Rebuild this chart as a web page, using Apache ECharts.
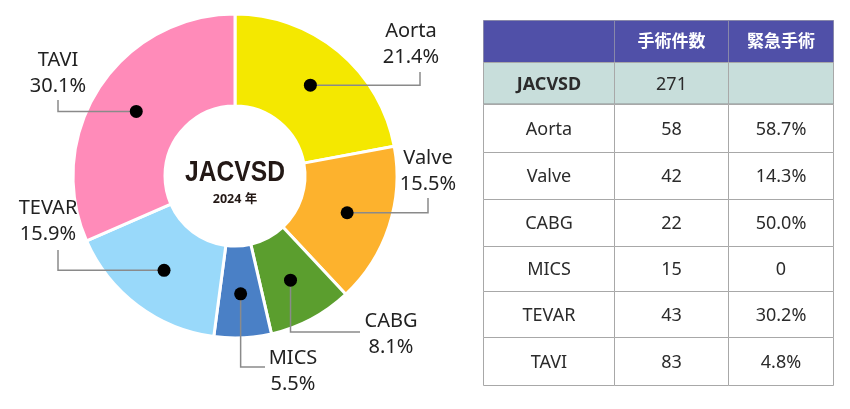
<!DOCTYPE html>
<html><head><meta charset="utf-8">
<script src="https://cdn.jsdelivr.net/npm/echarts@6/dist/echarts.min.js"></script>
<style>html,body{margin:0;padding:0;background:#fff}#c{width:850px;height:409px}</style>
</head><body><div id="c"></div>
<script>
// ---- data ----
const categories = ['Aorta', 'Valve', 'CABG', 'MICS', 'TEVAR', 'TAVI'];
const counts = [58, 42, 22, 15, 43, 83];
const shareLabels = ['21.4%', '15.5%', '8.1%', '5.5%', '15.9%', '30.1%'];
const emergencyRates = ['58.7%', '14.3%', '50.0%', '0', '30.2%', '4.8%'];
const totalLabel = 'JACVSD';
const totalCount = 271;
const headers = ['', '手術件数', '緊急手術'];
const yearLabel = '2024 年';

// ---- style / layout ----
const colors = ['#F4E800', '#FDB22D', '#5B9E2E', '#4A80C6', '#99D9FA', '#FF8BB9'];
const CX = 235, CY = 176, R0 = 70, R1 = 162, RDOT = 118;
const FONT = '"Noto Sans", "Noto Sans CJK JP", sans-serif';
const labelPos = {
  Aorta: { x: 411, y: 44, type: 'h', ex: 420, ey: 72 },
  Valve: { x: 428, y: 171, type: 'h', ex: 428, ey: 198 },
  CABG: { x: 391, y: 334, type: 'v', ex: 360, ey: 332 },
  MICS: { x: 293, y: 371, type: 'v', ex: 265, ey: 367 },
  TEVAR: { x: 48, y: 221, type: 'h', ex: 58, ey: 250 },
  TAVI: { x: 58, y: 73, type: 'h', ex: 58, ey: 100 }
};
const colW = [131, 114, 105];
const rowH = [42, 42, 48, 47, 47, 45, 46, 48];
const tableW = colW.reduce((a, b) => a + b, 0);
const tableH = rowH.reduce((a, b) => a + b, 0);

// ---- derived ----
const total = counts.reduce((a, b) => a + b, 0);
const tableRows = [headers, [totalLabel, String(totalCount), '']]
  .concat(categories.map((c, i) => [c, String(counts[i]), emergencyRates[i]]));
const cells = [];
tableRows.forEach((row, r) => row.forEach((t, c) => cells.push([c, r])));
const dotData = [];
let cum = 0;
counts.forEach(v => { dotData.push([RDOT, cum + v / 2]); cum += v; });
const pieData = categories.map((n, i) => ({ name: n, value: counts[i], itemStyle: { color: colors[i] } }));

function sum(arr, n) { let s = 0; for (let i = 0; i < n; i++) s += arr[i]; return s; }

const chart = echarts.init(document.getElementById('c'), null, { renderer: 'canvas' });
chart.setOption({
  animation: false,
  graphic: [
    {
      type: 'text', x: CX, y: 173, scaleX: 0.82, z: 20,
      style: { text: totalLabel, align: 'center', verticalAlign: 'middle', fill: '#231815',
        font: 'bold 30px "Liberation Sans", Arial, sans-serif' }
    },
    {
      type: 'text', x: CX, y: 199, z: 20,
      style: { text: yearLabel, align: 'center', verticalAlign: 'middle', fill: '#231815',
        font: 'bold 12.5px "Noto Sans", "Noto Sans CJK JP", sans-serif' }
    }
  ],
  polar: { center: [CX, CY], radius: R1 },
  angleAxis: { type: 'value', min: 0, max: total, startAngle: 90, clockwise: true, show: false, axisLine: { show: false }, splitLine: { show: false }, axisLabel: { show: false }, axisTick: { show: false } },
  radiusAxis: { type: 'value', min: 0, max: R1, show: false, axisLine: { show: false }, splitLine: { show: false }, axisLabel: { show: false }, axisTick: { show: false } },
  grid: { left: 483.5, top: 20.5, width: tableW, height: tableH },
  xAxis: { type: 'value', min: 0, max: tableW, show: false },
  yAxis: { type: 'value', min: 0, max: tableH, inverse: true, show: false },
  series: [
    {
      type: 'pie', center: [CX, CY], radius: [R0, R1], startAngle: 90, clockwise: true, silent: true,
      data: pieData, itemStyle: { borderColor: '#fff', borderWidth: 3 },
      label: { show: false }, labelLine: { show: false }
    },
    {
      type: 'pie', center: [CX, CY], radius: [0, RDOT], startAngle: 90, clockwise: true, silent: true,
      avoidLabelOverlap: false, z: 5,
      data: pieData.map(d => ({ name: d.name, value: d.value, itemStyle: { color: 'rgba(0,0,0,0)' } })),
      label: {
        show: true, position: 'outside', color: '#222', fontSize: 20, lineHeight: 26, fontFamily: FONT,
        formatter: p => p.name + '\n' + shareLabels[p.dataIndex]
      },
      labelLine: { show: true, length: 10, length2: 10, lineStyle: { color: '#8a8a8a', width: 1.5 } },
      labelLayout: function (params) {
        const L = labelPos[categories[params.dataIndex]];
        const s = params.labelLinePoints[0];
        const pts = L.type === 'h'
          ? [[s[0], s[1]], [L.ex, s[1]], [L.ex, L.ey]]
          : [[s[0], s[1]], [s[0], L.ey], [L.ex, L.ey]];
        return { x: L.x, y: L.y, align: 'center', verticalAlign: 'middle', labelLinePoints: pts };
      }
    },
    {
      type: 'scatter', coordinateSystem: 'polar', data: dotData, symbolSize: 13, z: 10, silent: true,
      itemStyle: { color: '#000', opacity: 1 }
    },
    {
      type: 'custom', coordinateSystem: 'cartesian2d', data: cells, silent: true,
      encode: { x: 0, y: 1 },
      renderItem: function (params, api) {
        const c = api.value(0), r = api.value(1);
        const x0 = sum(colW, c), y0 = sum(rowH, r);
        const p0 = api.coord([x0, y0]);
        const p1 = api.coord([x0 + colW[c], y0 + rowH[r]]);
        const w = p1[0] - p0[0], h = p1[1] - p0[1];
        const fill = r === 0 ? '#5050A8' : (r === 1 ? '#C8DEDB' : '#ffffff');
        const txt = tableRows[r][c];
        const children = [
          { type: 'rect', shape: { x: p0[0], y: p0[1], width: w, height: h }, style: { fill: fill, stroke: r === 0 ? '#8888aa' : '#a8a8a8', lineWidth: 1 } },
          {
            type: 'text', style: {
              text: txt, x: p0[0] + w / 2, y: p0[1] + h / 2 + 1, align: 'center', verticalAlign: 'middle',
              fill: r === 0 ? '#ffffff' : '#2b2b2b',
              fontSize: r === 0 ? 17 : 18,
              fontWeight: (r === 0 || (r === 1 && c === 0)) ? 'bold' : 'normal',
              fontFamily: FONT
            }
          }
        ];
        if (r === 1) {
          children.push({ type: 'line', shape: { x1: p0[0], y1: p1[1], x2: p1[0], y2: p1[1] }, style: { stroke: '#a0a8a8', lineWidth: 2.5 } });
        }
        return { type: 'group', children: children };
      }
    }
  ]
});
</script>
</body></html>
